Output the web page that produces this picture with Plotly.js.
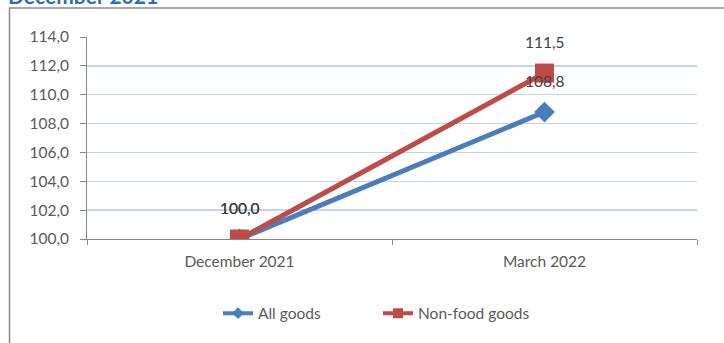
<!DOCTYPE html>
<html>
<head>
<meta charset="utf-8">
<script src="https://cdn.plot.ly/plotly-3.0.1.min.js"></script>
<style>html,body{margin:0;padding:0;background:#fff;} #chart{width:724px;height:343px;}</style>
</head>
<body>
<div id="chart"></div>
<script>
const categories = ["December 2021", "March 2022"];
const allGoods = [100.0, 108.8];
const nonFoodGoods = [100.0, 111.5];
const yTicks = [100, 102, 104, 106, 108, 110, 112, 114];
const titleText = "December 2021";

const fontFam = "Lato, 'Open Sans', sans-serif";
const fmt = v => v.toFixed(1).replace('.', ',');
const blue = "#4A7EBB", red = "#BE4B48";

const traces = [
  {
    x: categories, y: allGoods, name: "All goods", type: "scatter", mode: "lines+markers",
    line: {color: blue, width: 5}, showlegend: false,
    marker: {symbol: "diamond", size: 16, color: blue}
  },
  {
    x: categories, y: nonFoodGoods, name: "Non-food goods", type: "scatter", mode: "lines+markers",
    line: {color: red, width: 5}, showlegend: false,
    marker: {symbol: "square", size: 19, color: red}
  },
  {
    x: [categories[0]], y: [null], name: "All goods", type: "scatter", mode: "lines+markers",
    line: {color: blue, width: 4}, marker: {symbol: "diamond", size: 9, color: blue}
  },
  {
    x: [categories[0]], y: [null], name: "Non-food goods", type: "scatter", mode: "lines+markers",
    line: {color: red, width: 4}, marker: {symbol: "square", size: 10, color: red}
  }
];

const annotations = [];
categories.forEach((c, i) => {
  annotations.push({x: c, y: allGoods[i], text: fmt(allGoods[i]), showarrow: false,
    yshift: 31, font: {family: fontFam, size: 15.5, color: "#404040"}});
  annotations.push({x: c, y: nonFoodGoods[i], text: fmt(nonFoodGoods[i]), showarrow: false,
    yshift: 31, font: {family: fontFam, size: 15.5, color: "#404040"}});
});
annotations.push({xref: "paper", yref: "paper", x: (6 - 87) / 610, y: 1 + (37 - 10) / 205,
  xanchor: "left", yanchor: "bottom", text: "<b>" + titleText + "</b>", showarrow: false,
  font: {family: fontFam, size: 21, color: "#2E6DB0"}});

const layout = {
  width: 724, height: 343,
  margin: {l: 87, r: 27, t: 37, b: 101},
  paper_bgcolor: "#fff", plot_bgcolor: "#fff",
  separators: ", ",
  showlegend: true,
  legend: {orientation: "h", x: (218 - 87) / 610, xanchor: "left", y: -0.285, yanchor: "top",
    entrywidth: 115, entrywidthmode: "pixels",
    font: {family: fontFam, size: 15.5, color: "#595959"}, traceorder: "normal"},
  xaxis: {
    type: "category", range: [-0.5, 1.5], showgrid: false,
    showline: true, linecolor: "#868686", linewidth: 1,
    ticks: "outside", tickson: "boundaries", ticklen: 5, tickcolor: "#868686",
    ticklabelstandoff: 8,
    tickfont: {family: fontFam, size: 15.5, color: "#595959"}, zeroline: false
  },
  yaxis: {
    range: [100, 114], tickvals: yTicks, ticktext: yTicks.map(fmt),
    showgrid: true, gridcolor: "#C3D3EC", gridwidth: 1.5,
    showline: true, linecolor: "#868686", linewidth: 1,
    ticks: "outside", ticklen: 6, tickcolor: "#868686",
    ticklabelstandoff: 8,
    tickfont: {family: fontFam, size: 15.5, color: "#595959"}, zeroline: false
  },
  annotations: annotations,
  shapes: [{type: "rect", xref: "paper", yref: "paper",
    x0: (9.5 - 87) / 610, x1: 2, y0: (242 - 360) / 205, y1: 1 + (37 - 7.5) / 205,
    line: {color: "#8A8A8A", width: 1.5}, layer: "below"}]
};

Plotly.newPlot("chart", traces, layout, {displayModeBar: false, staticPlot: true});
</script>
</body>
</html>
